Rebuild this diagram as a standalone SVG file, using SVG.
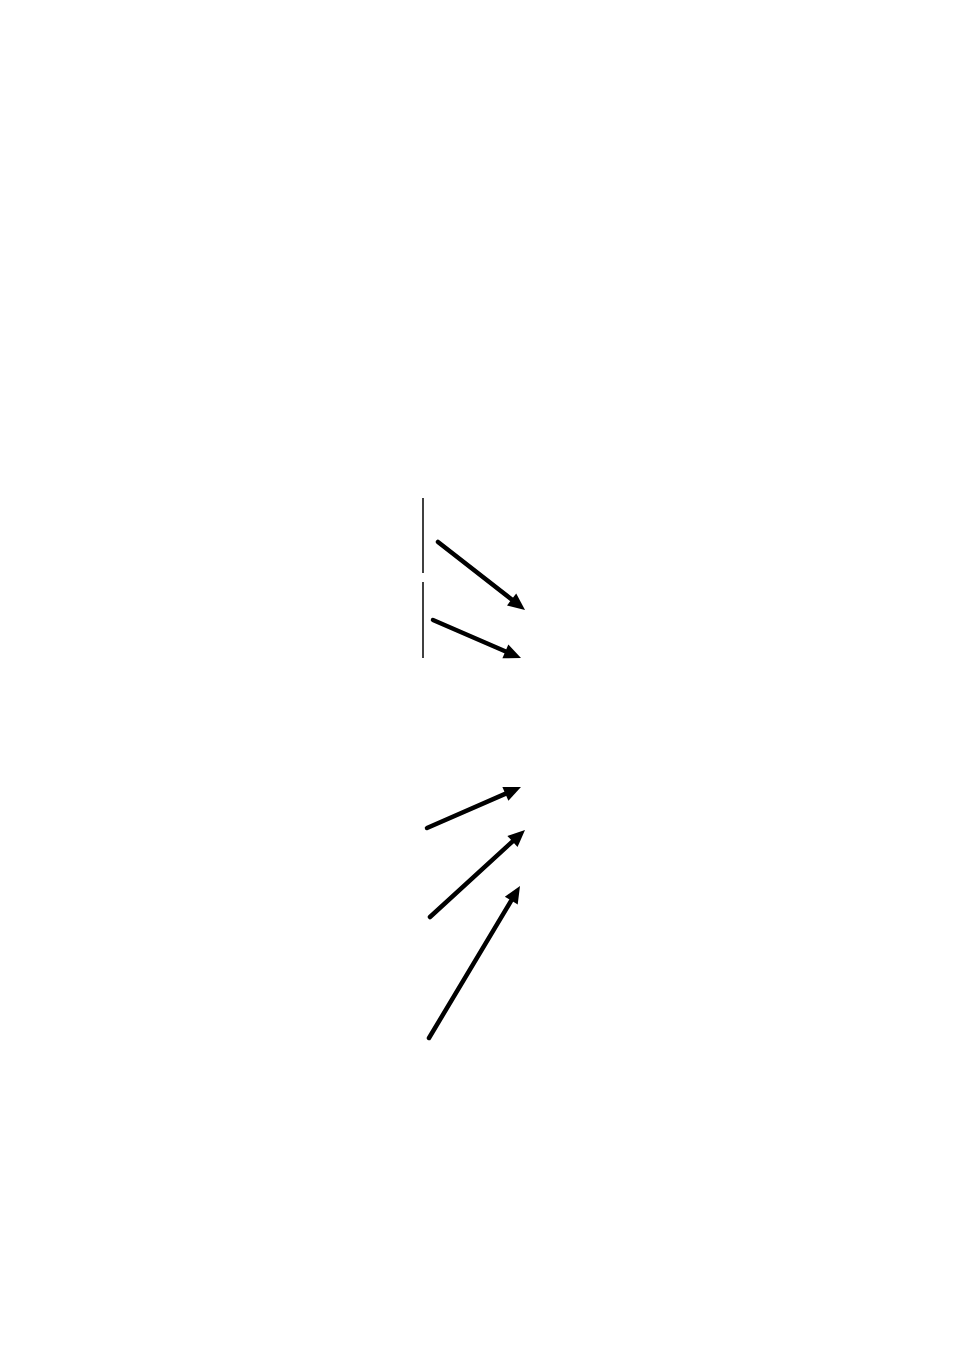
<svg xmlns="http://www.w3.org/2000/svg" width="954" height="1350" viewBox="0 0 954 1350">
<defs>
<marker id="ah" markerUnits="userSpaceOnUse" markerWidth="18" markerHeight="16" refX="1" refY="8" orient="auto" overflow="visible">
<path d="M0,0.5 L17,8 L0,15.5 z" fill="#000"/>
</marker>
<style>
.arr{stroke:#000;stroke-width:4.5;fill:none;stroke-linecap:round;marker-end:url(#ah)}
.bar{stroke:#000;stroke-width:1.5}
</style>
</defs>
<rect width="954" height="1350" fill="#fff"/>
<g id="bars">
<line class="bar" x1="423" y1="498" x2="423" y2="573"/>
<line class="bar" x1="423" y1="582" x2="423" y2="658"/>
</g>
<g id="connectors">
<line class="arr" x1="438" y1="542" x2="512.4" y2="600.1"/>
<line class="arr" x1="433" y1="620" x2="506.3" y2="651.7"/>
<line class="arr" x1="427" y1="828" x2="506.3" y2="793.4"/>
<line class="arr" x1="430" y1="917" x2="513.2" y2="840.8"/>
<line class="arr" x1="429" y1="1038" x2="511.8" y2="899.7"/>
</g>
</svg>
